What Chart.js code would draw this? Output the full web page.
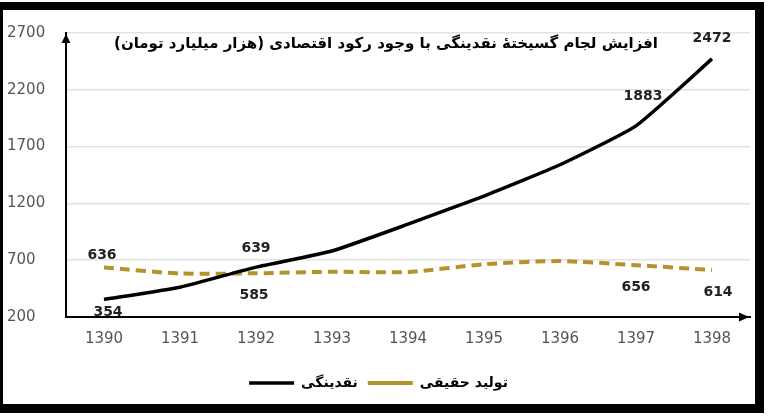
<!DOCTYPE html>
<html><head><meta charset="utf-8">
<script src="https://cdn.jsdelivr.net/npm/chart.js@4"></script>
<style>
html,body{margin:0;padding:0;background:#fff;}
#wrap{position:relative;width:770px;height:416px;}
#frame{position:absolute;left:0;top:2px;width:764px;height:411px;box-sizing:border-box;border-style:solid;border-color:#000;border-width:8px 9px 9px 3px;pointer-events:none;}
</style></head><body>
<div id="wrap"><canvas id="c" width="770" height="416"></canvas><div id="frame"></div></div>
<script>
const years = ['1390','1391','1392','1393','1394','1395','1396','1397','1398'];
const liquidity = [354, 462, 639, 781, 1017, 1265, 1540, 1883, 2472];
const realOutput = [636, 583, 585, 598, 596, 664, 692, 656, 614];
const seriesNames = ['نقدینگی', 'تولید حقیقی'];
const chartTitle = 'افزایش لجام گسیختهٔ نقدینگی با وجود رکود اقتصادی (هزار میلیارد تومان)';
const yMin = 200, yMax = 2700, yStep = 500;
const labelledIdx = [0, 2, 7, 8];

const FONT = 'DejaVu Sans';

// label offsets (pixels) per dataset and index
const labelOffsets = [
  {0:[4,13], 2:[0,-19], 7:[7,-29], 8:[0,-21]},
  {0:[-2,-12], 2:[-2,22], 7:[0,22], 8:[6,22]}
];

const decor = {
  id:'decor',
  afterDraw(chart){
    const ctx = chart.ctx, a = chart.chartArea;
    ctx.save();
    // arrows
    ctx.fillStyle = '#000';
    ctx.beginPath();
    ctx.moveTo(a.left, a.top + 1);
    ctx.lineTo(a.left - 4.5, a.top + 10);
    ctx.lineTo(a.left + 4.5, a.top + 10);
    ctx.closePath(); ctx.fill();
    ctx.beginPath();
    ctx.moveTo(a.right - 1, a.bottom);
    ctx.lineTo(a.right - 11, a.bottom - 4.5);
    ctx.lineTo(a.right - 11, a.bottom + 4.5);
    ctx.closePath(); ctx.fill();
    // title
    ctx.font = 'bold 15px "' + FONT + '"';
    ctx.fillStyle = '#000';
    ctx.textAlign = 'center';
    ctx.textBaseline = 'middle';
    ctx.direction = 'rtl';
    ctx.fillText(chartTitle, 386, 44);
    ctx.direction = 'ltr';
    // data labels
    ctx.font = 'bold 14px "' + FONT + '"';
    ctx.fillStyle = '#222';
    chart.data.datasets.forEach((ds, di) => {
      const meta = chart.getDatasetMeta(di);
      labelledIdx.forEach(i => {
        const p = meta.data[i];
        const off = labelOffsets[di][i] || [0,0];
        ctx.fillText(String(ds.data[i]), p.x + off[0], p.y + off[1]);
      });
    });
    ctx.restore();
  }
};

new Chart(document.getElementById('c'), {
  type:'line',
  data:{
    labels: years,
    datasets:[
      {label: seriesNames[0], data: liquidity, borderColor:'#000', backgroundColor:'#000',
       borderWidth:3.5, tension:0.15, pointRadius:0, pointStyle:'line', fill:false},
      {label: seriesNames[1], data: realOutput, borderColor:'#b3942c', backgroundColor:'#b3942c',
       borderWidth:4, borderDash:[10,6], tension:0.25, pointRadius:0, pointStyle:'line', fill:false}
    ]
  },
  options:{
    responsive:false, animation:false,
    layout:{padding:{left:7, right:20, top:33, bottom:16}},
    plugins:{
      legend:{position:'bottom',
        labels:{usePointStyle:true, pointStyleWidth:45, padding:10, color:'#000',
          font:{family:FONT, weight:'bold', size:14}}},
      tooltip:{enabled:false}
    },
    scales:{
      x:{offset:true,
        grid:{display:false, drawTicks:false},
        border:{display:true, color:'#000', width:2},
        ticks:{padding:13, color:'#555', font:{family:FONT, size:15}},
        afterFit(s){ s.height = 49; }
      },
      y:{min:yMin, max:yMax,
        grid:{color:'#e2e2e2', lineWidth:1.5, drawTicks:false},
        border:{display:true, color:'#000', width:2},
        ticks:{stepSize:yStep, crossAlign:'far', color:'#555', font:{family:FONT, size:15},
          callback:(v) => String(v)},
        afterFit(s){ s.width = 59; }
      }
    }
  },
  plugins:[decor]
});
</script>
</body></html>
